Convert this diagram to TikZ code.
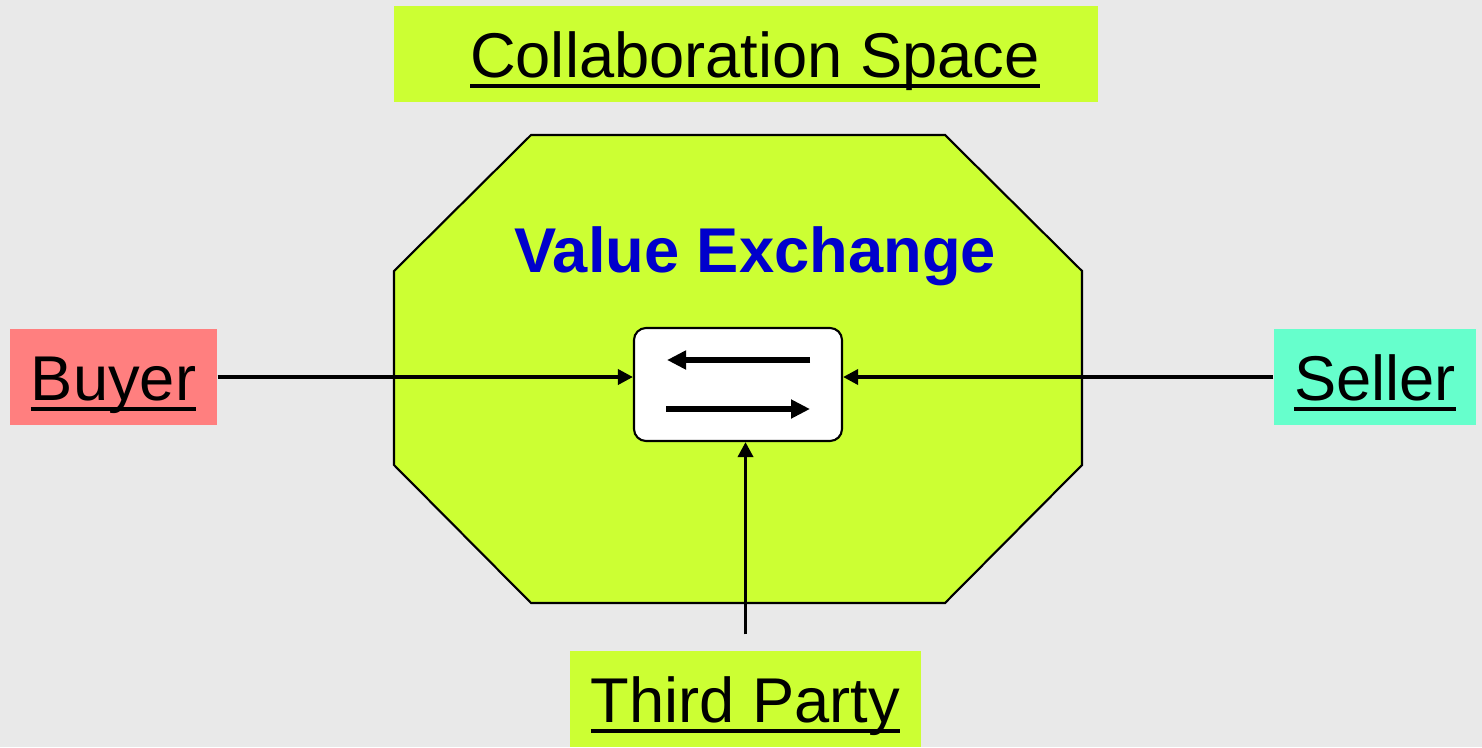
\documentclass[tikz,border=0pt]{standalone}
\usepackage{fontspec}
\setmainfont{Liberation Sans}
\usetikzlibrary{arrows.meta}

\definecolor{bggray}{HTML}{E9E9E9}
\definecolor{limefill}{HTML}{CCFF33}
\definecolor{buyerfill}{HTML}{FF7F7F}
\definecolor{sellerfill}{HTML}{66FFCC}
\definecolor{exchblue}{HTML}{0000CC}

\newcommand\undl[1]{\setbox0\hbox{#1}\rlap{\rule[-3pt]{\wd0}{1.1pt}}\box0}

\begin{document}
\begin{tikzpicture}
  [
    party/.style = {inner sep = 0pt, text height = 0.71cm, text depth = 0.25cm,
        font = \fontsize{18}{22}\selectfont},
    conn/.style = {line width = 1pt, -{Triangle[length = 0.15cm, width = 0.15cm]}},
    flow/.style = {line width = 1.6pt, -{Triangle[length = 0.19cm, width = 0.18cm]}},
  ]

  \clip (0,0) rectangle (14.82,7.47);
  \fill [bggray] (0,0) rectangle (14.82,7.47);

  \node (space) [party, fill = limefill, minimum width = 7.04cm] at (7.46,6.93)
    {\hspace{0.18cm}\undl{Collaboration Space}};

  \draw [fill = limefill, line width = 0.6pt]
    (5.31,6.12) -- (9.45,6.12) -- (10.82,4.76) -- (10.82,2.82)
    -- (9.45,1.44) -- (5.31,1.44) -- (3.94,2.82) -- (3.94,4.76) -- cycle;

  \node (title) [anchor = base, text = exchblue, font = \fontsize{18}{22}\selectfont\bfseries]
    at (7.55,4.75) {Value Exchange};

  \node (xbox) [draw, fill = white, rounded corners = 0.12cm, line width = 0.6pt,
      minimum width = 2.08cm, minimum height = 1.13cm] at (7.38,3.625) {};

  \node (buyer) [party, fill = buyerfill, minimum width = 2.07cm] at (1.135,3.70) {\undl{Buyer}};
  \node (seller) [party, fill = sellerfill, minimum width = 2.02cm] at (13.75,3.70) {\undl{Seller}};
  \node (third) [party, fill = limefill, minimum width = 3.51cm] at (7.455,0.48) {\undl{Third Party}};

  \draw [flow] ([shift = {(0.72,0.245)}]xbox.center) -- ([shift = {(-0.71,0.245)}]xbox.center);
  \draw [flow] ([shift = {(-0.72,-0.245)}]xbox.center) -- ([shift = {(0.72,-0.245)}]xbox.center);

  \draw [conn] (buyer.east) -- (buyer.east -| xbox.west);
  \draw [conn] (seller.west) -- (seller.west -| xbox.east);
  \draw [conn, shorten <= 0.16cm] (third.north) -- (third.north |- xbox.south);

\end{tikzpicture}
\end{document}
